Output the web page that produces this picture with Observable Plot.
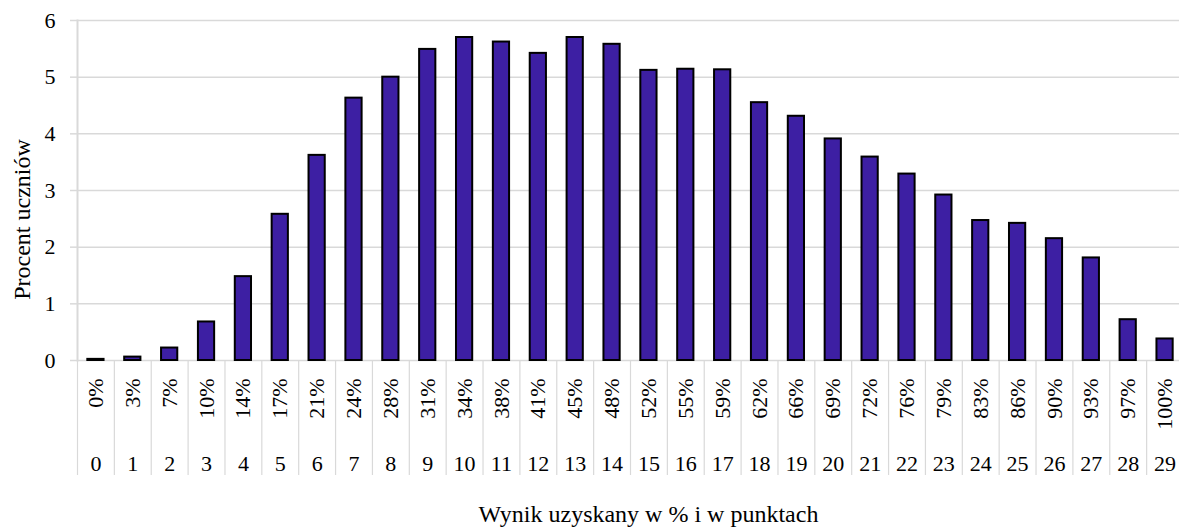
<!DOCTYPE html>
<html><head><meta charset="utf-8">
<script src="https://cdn.jsdelivr.net/npm/d3@7"></script>
<script src="https://cdn.jsdelivr.net/npm/@observablehq/plot@0.6"></script>
<style>
html,body{margin:0;padding:0;background:#fff;overflow:hidden}
#chart svg{display:block}
#chart svg, #chart svg text{font-family:"Liberation Serif","Times New Roman",serif !important;}
</style>
</head><body><div id="chart"></div>
<script>
const points = [0,1,2,3,4,5,6,7,8,9,10,11,12,13,14,15,16,17,18,19,20,21,22,23,24,25,26,27,28,29];
const pctLabels = ["0%","3%","7%","10%","14%","17%","21%","24%","28%","31%","34%","38%","41%","45%","48%","52%","55%","59%","62%","66%","69%","72%","76%","79%","83%","86%","90%","93%","97%","100%"];
const values = [0.02,0.06,0.22,0.68,1.48,2.58,3.62,4.63,5.0,5.49,5.70,5.62,5.42,5.70,5.58,5.12,5.14,5.13,4.55,4.31,3.91,3.59,3.29,2.92,2.47,2.42,2.15,1.81,0.72,0.38];
const yTicks = [0,1,2,3,4,5,6];
const yTitle = "Procent uczniów";
const xTitle = "Wynik uzyskany w % i w punktach";

const data = points.map((p, i) => ({pt: p, pct: pctLabels[i], v: values[i]}));

const W = 1179, H = 527, mL = 77, mR = -4, mT = 20, mB = 167;
const step = (W - mL - mR) / points.length;
const frameMidY = (mT + (H - mB)) / 2;
const frameMidX = (mL + (W - mR)) / 2;

const chart = Plot.plot({
  width: W, height: H,
  marginLeft: mL, marginRight: mR, marginTop: mT, marginBottom: mB,
  style: {fontFamily: "'Liberation Serif', 'Times New Roman', serif", fontSize: "22px", color: "#000", background: "#fff", overflow: "visible"},
  x: {type: "band", domain: points, paddingInner: 0.56, paddingOuter: 0.28, round: false, axis: null},
  y: {domain: [0, 6], axis: null},
  marks: [
    Plot.gridY(yTicks, {stroke: "#d9d9d9", strokeOpacity: 1, strokeWidth: 1.5}),
    Plot.axisY(yTicks, {tickSize: 7, tickPadding: 15, tickFormat: d => String(d), stroke: "#d9d9d9", strokeOpacity: 1, strokeWidth: 1.5, label: null, fontSize: 22}),
    Plot.frame({anchor: "left", stroke: "#d9d9d9", strokeWidth: 2}),
    Plot.axisX(points, {tickSize: 115, dx: -step / 2, tickFormat: () => "", stroke: "#d9d9d9", strokeOpacity: 1, strokeWidth: 1.2, label: null}),
    Plot.barY(data, {x: "pt", y: "v", fill: "#3d1fa3", stroke: "#000", strokeWidth: 2}),
    Plot.text(data, {x: "pt", text: "pct", frameAnchor: "bottom", dy: 18, rotate: -90, textAnchor: "end", lineAnchor: "middle", fontSize: 22}),
    Plot.text(data, {x: "pt", text: d => String(d.pt), frameAnchor: "bottom", dy: 103, textAnchor: "middle", lineAnchor: "middle", fontSize: 22}),
    Plot.text([yTitle], {frameAnchor: "left", dx: 22 - mL, dy: 219 - frameMidY, rotate: -90, textAnchor: "middle", lineAnchor: "middle", fontSize: 24}),
    Plot.text([xTitle], {frameAnchor: "bottom", dy: 154, dx: 648 - frameMidX, textAnchor: "middle", lineAnchor: "middle", fontSize: 24})
  ]
});
document.getElementById("chart").appendChild(chart);
</script>
</body></html>
